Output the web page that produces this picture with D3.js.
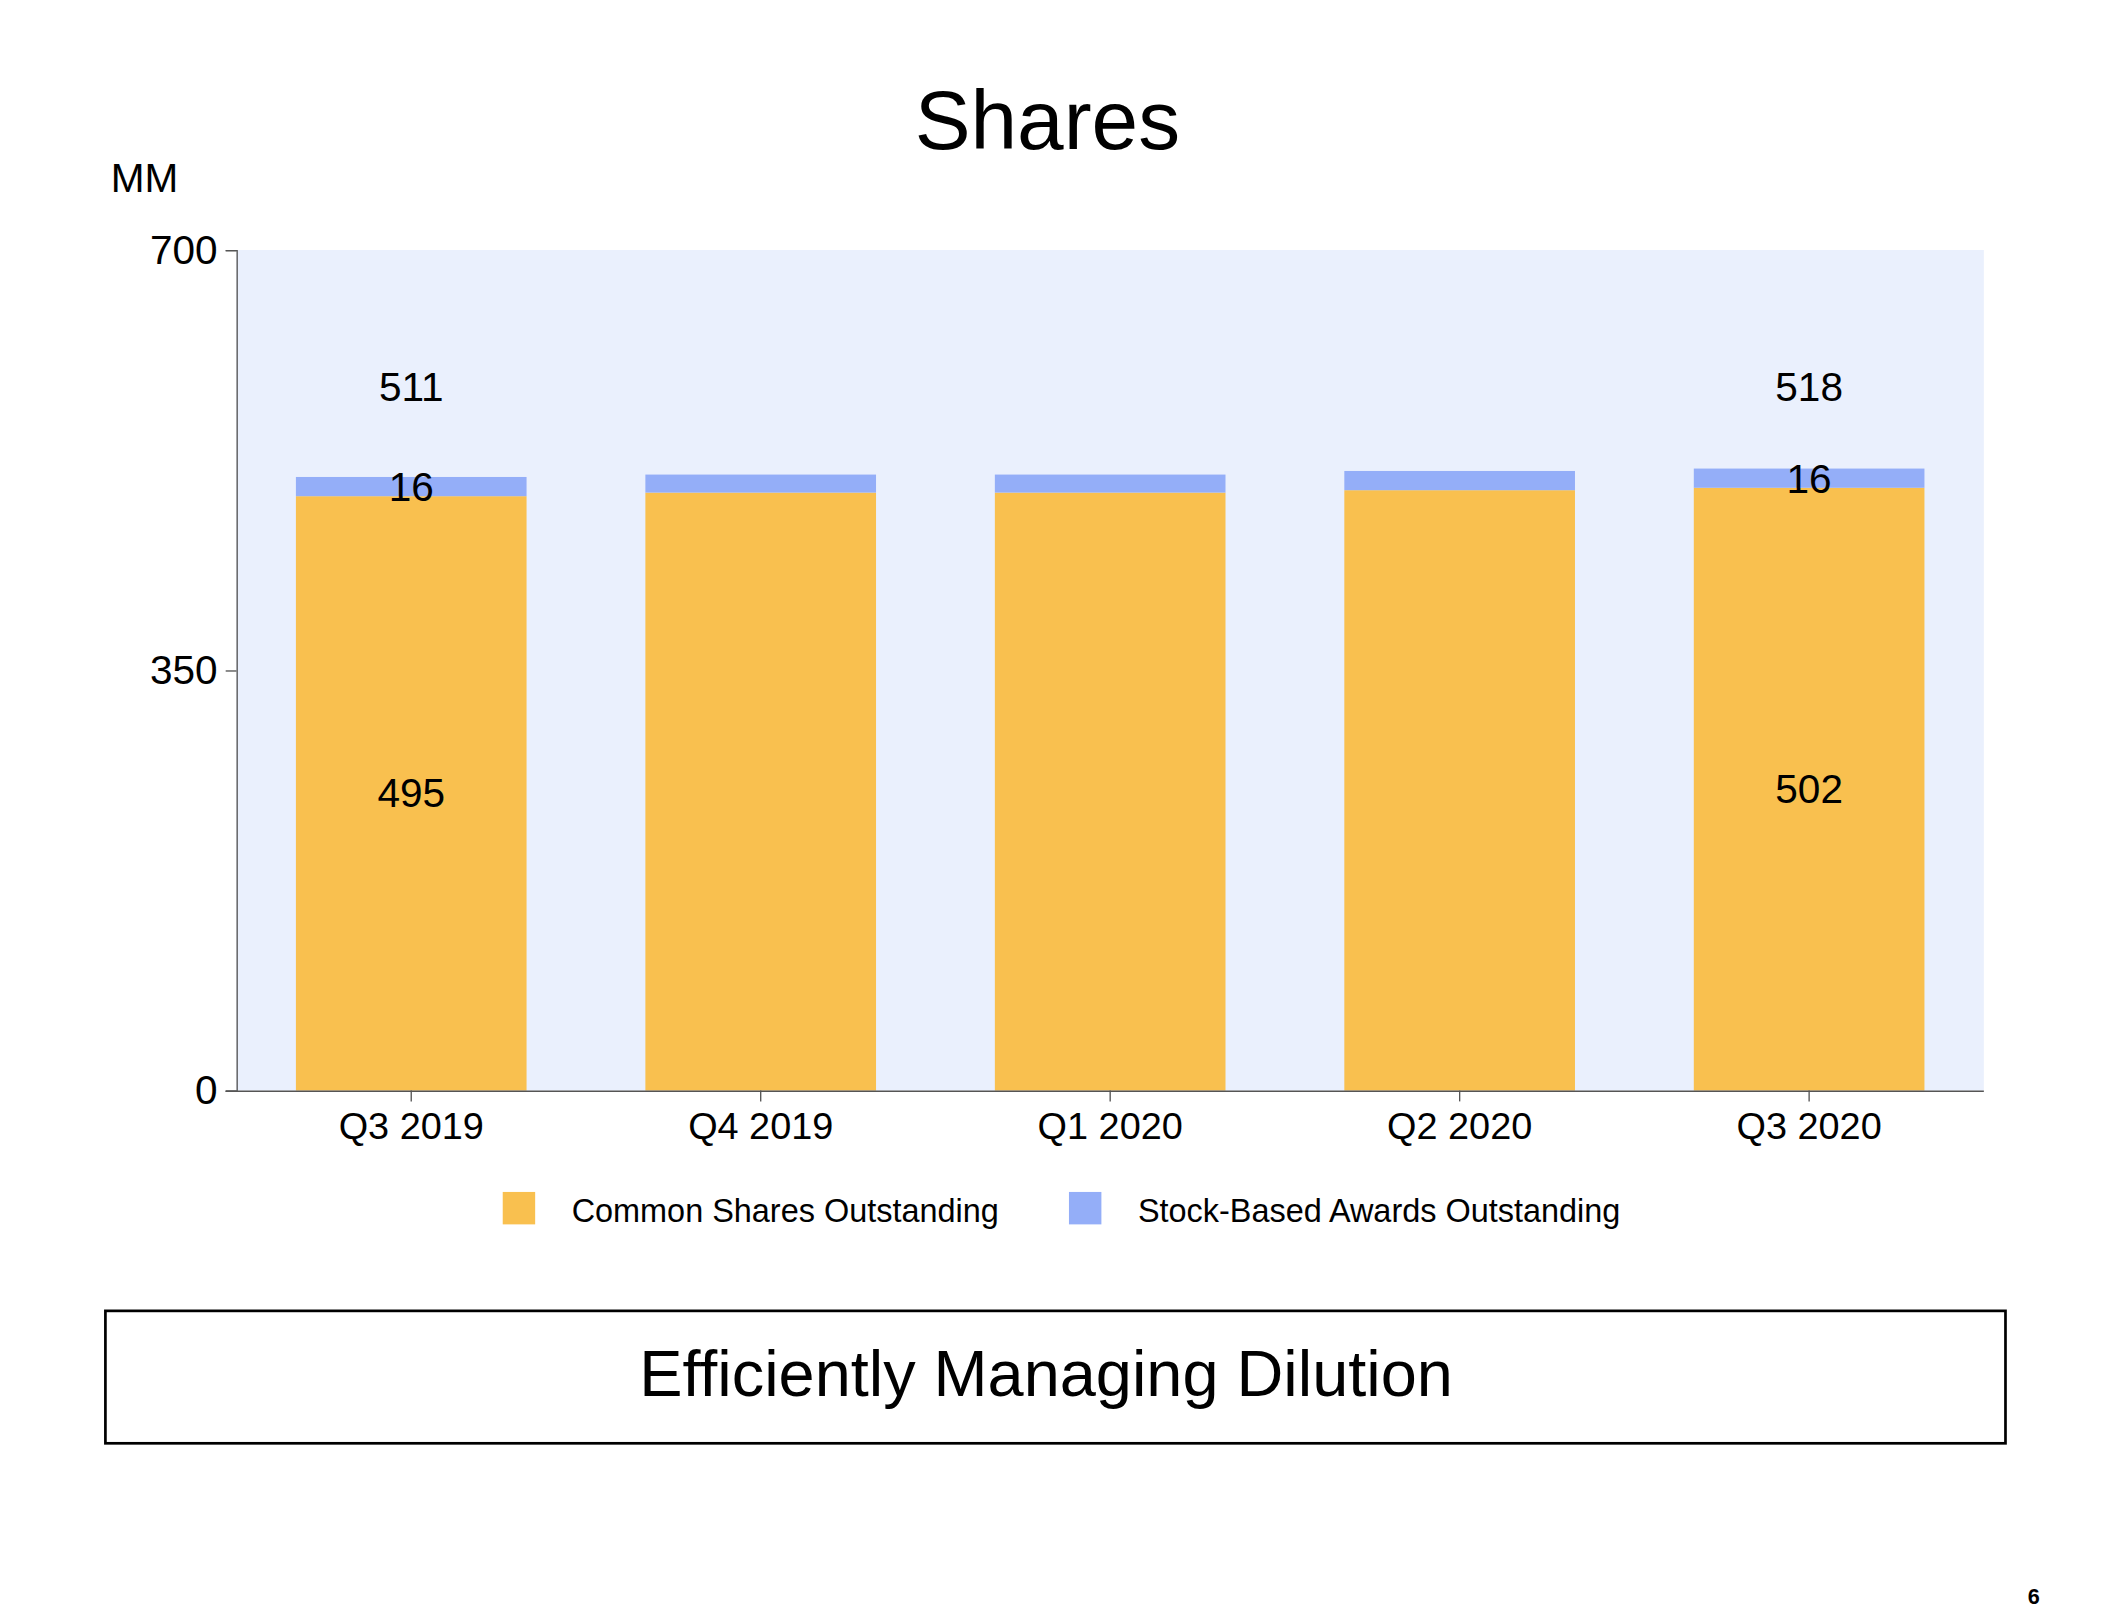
<!DOCTYPE html>
<html><head><meta charset="utf-8">
<script src="https://cdn.jsdelivr.net/npm/d3@7"></script>
<style>body{margin:0;background:#fff}svg{display:block;font-family:"Liberation Sans",Arial,sans-serif}</style>
</head><body>
<svg id="c" width="2119" height="1619" viewBox="0 0 1568 1198"></svg>
<script>
const categories = ["Q3 2019","Q4 2019","Q1 2020","Q2 2020","Q3 2020"];
const commonShares = [495, 498, 498, 500, 502];
const stockAwards = [16, 15, 15, 16, 16];
const totalLabels = ["511", "", "", "", "518"];
const yTicks = [0, 350, 700];
const seriesNames = ["Common Shares Outstanding","Stock-Based Awards Outstanding"];
const colors = ["#F9C04F","#94AEF8"];

const svg = d3.select("#c");
const L=175,R=1468,T=185,B=807;
svg.append("rect").attr("x",L).attr("y",T).attr("width",R-L).attr("height",B-T).attr("fill","#EAF0FD");
const x = d3.scaleBand().domain(categories).range([L,R]).paddingInner(0.34).paddingOuter(0.17);
const y = d3.scaleLinear().domain([0,700]).range([B,T]);

svg.append("text").attr("x",775).attr("y",110).attr("text-anchor","middle").attr("font-size",62).text("Shares");
svg.append("text").attr("x",82).attr("y",142).attr("font-size",30).text("MM");

categories.forEach((c,i)=>{
  svg.append("rect").attr("x",x(c)).attr("width",x.bandwidth()).attr("y",y(commonShares[i])).attr("height",B-y(commonShares[i])).attr("fill",colors[0]);
  svg.append("rect").attr("x",x(c)).attr("width",x.bandwidth()).attr("y",y(commonShares[i]+stockAwards[i])).attr("height",y(commonShares[i])-y(commonShares[i]+stockAwards[i])).attr("fill",colors[1]);
  if(totalLabels[i]){
    const cx=x(c)+x.bandwidth()/2;
    svg.append("text").attr("x",cx).attr("y",297).attr("text-anchor","middle").attr("font-size",30).text(totalLabels[i]);
    svg.append("text").attr("x",cx).attr("y",y(commonShares[i]+stockAwards[i])+18).attr("text-anchor","middle").attr("font-size",30).text(stockAwards[i]);
    svg.append("text").attr("x",cx).attr("y",y(commonShares[i]/2)+10).attr("text-anchor","middle").attr("font-size",30).text(commonShares[i]);
  }
});

const ya = svg.append("g").attr("transform",`translate(${L},0)`).call(d3.axisLeft(y).tickValues(yTicks).tickSize(8).tickPadding(6));
ya.selectAll("text").attr("font-size",30).attr("fill","#000").attr("font-family","Liberation Sans, Arial");
const xa = svg.append("g").attr("transform",`translate(0,${B})`).call(d3.axisBottom(x).tickSize(8).tickPadding(8).tickSizeOuter(0));
xa.select(".domain").attr("d",`M${L-8},0.5H${R}`);
xa.selectAll("text").attr("font-size",28).attr("fill","#000").attr("font-family","Liberation Sans, Arial");
svg.selectAll(".domain, .tick line").attr("stroke","#555");

const lx=[372,791];
seriesNames.forEach((n,i)=>{
  svg.append("rect").attr("x",lx[i]).attr("y",882).attr("width",24).attr("height",24).attr("fill",colors[i]);
  svg.append("text").attr("x",lx[i]+51).attr("y",904).attr("font-size",24).text(n);
});

svg.append("rect").attr("x",78).attr("y",970).attr("width",1406).attr("height",98).attr("fill","none").attr("stroke","#000").attr("stroke-width",2);
svg.append("text").attr("x",774).attr("y",1033).attr("text-anchor","middle").attr("font-size",48).text("Efficiently Managing Dilution");
svg.append("text").attr("x",1505).attr("y",1187).attr("text-anchor","middle").attr("font-size",16).attr("font-weight","bold").text("6");
</script></body></html>
